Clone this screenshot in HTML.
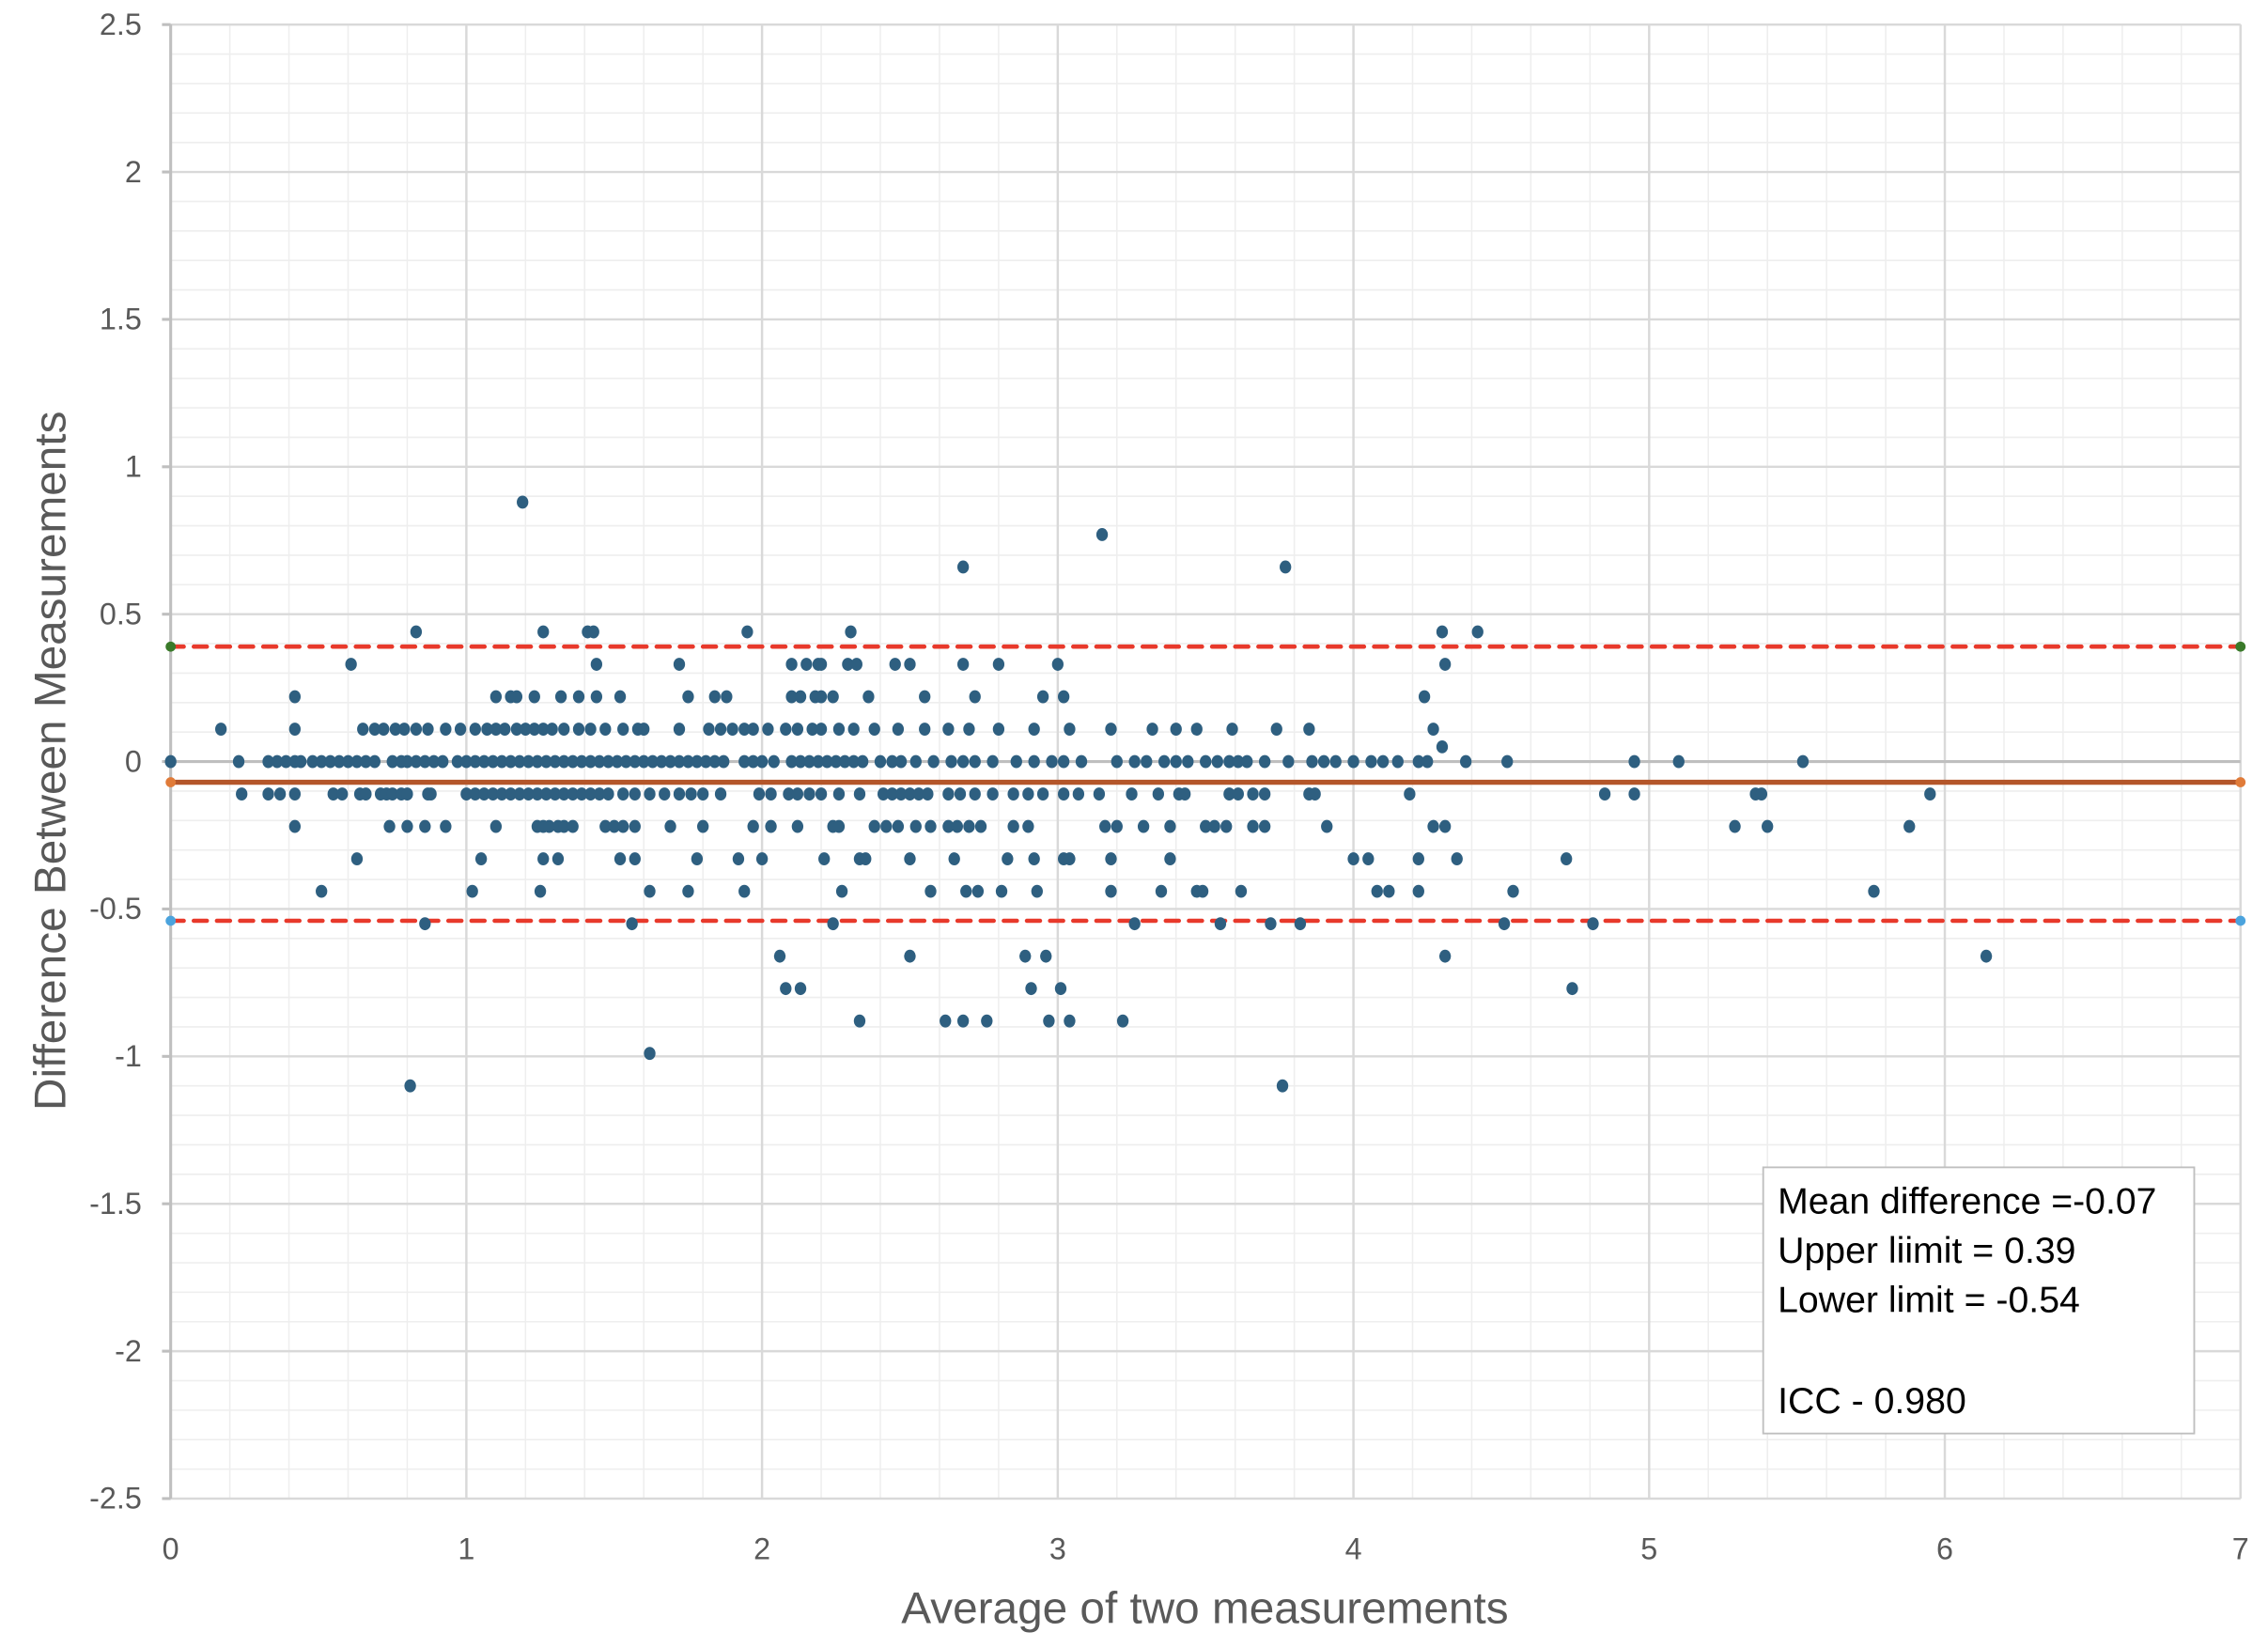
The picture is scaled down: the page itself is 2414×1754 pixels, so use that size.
<!DOCTYPE html>
<html><head><meta charset="utf-8"><style>
html,body{margin:0;padding:0;background:#fff;}
svg{display:block;font-family:"Liberation Sans",sans-serif;}
</style></head><body>
<svg id="chart" width="2414" height="1754" viewBox="0 0 1568 1139.3" preserveAspectRatio="none" xmlns="http://www.w3.org/2000/svg">
<g id="grid"></g>
<g id="axes"></g>
<g id="lines"></g>
<g id="pts"></g>
<text x="0" y="0" transform="translate(45,526) rotate(-90)" text-anchor="middle" font-size="31" fill="#595959">Difference Between Measurements</text>
<text x="833" y="1122" text-anchor="middle" font-size="31" fill="#595959">Average of two measurements</text>
<g>
<rect x="1219" y="807" width="298" height="184" fill="#fff" stroke="#bfbfbf" stroke-width="1.2"/>
<text x="1229" y="839" font-size="25.5" fill="#000" textLength="262" lengthAdjust="spacingAndGlyphs">Mean difference =-0.07</text>
<text x="1229" y="873" font-size="25.5" fill="#000">Upper liimit = 0.39</text>
<text x="1229" y="907" font-size="25.5" fill="#000">Lower limit = -0.54</text>
<text x="1229" y="977" font-size="25.5" fill="#000">ICC - 0.980</text>
</g>
</svg>
<script>
const xTicks=[0,1,2,3,4,5,6,7];
const yTicks=[2.5,2,1.5,1,0.5,0,-0.5,-1,-1.5,-2,-2.5];
const yTickLabels=["2.5","2","1.5","1","0.5","0","-0.5","-1","-1.5","-2","-2.5"];
const meanDiff=-0.07, upperLimit=0.39, lowerLimit=-0.54;
const lvl_0=[0,0.23,0.33,0.36,0.39,0.42,0.44,0.48,0.51,0.54,0.57,0.6,0.63,0.66,0.69,0.75,0.78,0.8,0.83,0.86,0.89,0.92,0.97,1.0,1.03,1.06,1.09,1.12,1.15,1.18,1.21,1.24,1.27,1.3,1.33,1.36,1.39,1.42,1.45,1.48,1.51,1.54,1.57,1.6,1.63,1.66,1.69,1.72,1.75,1.78,1.81,1.84,1.87,1.94,1.97,2.0,2.04,2.1,2.13,2.16,2.19,2.22,2.25,2.28,2.31,2.34,2.4,2.44,2.47,2.52,2.58,2.64,2.68,2.72,2.78,2.86,2.92,2.98,3.02,3.08,3.2,3.26,3.3,3.36,3.4,3.44,3.5,3.54,3.58,3.61,3.64,3.7,3.78,3.86,3.9,3.94,4.0,4.06,4.1,4.15,4.22,4.25,4.38,4.52,4.95,5.1,5.52];
const lvl_p11=[0.17,0.42,0.65,0.69,0.72,0.76,0.79,0.83,0.87,0.93,0.98,1.03,1.07,1.1,1.13,1.17,1.2,1.23,1.26,1.29,1.33,1.38,1.42,1.47,1.53,1.58,1.6,1.72,1.82,1.86,1.9,1.94,1.97,2.02,2.08,2.12,2.17,2.2,2.26,2.31,2.38,2.46,2.55,2.63,2.7,2.8,2.92,3.04,3.18,3.32,3.4,3.47,3.59,3.74,3.85,4.27];
const lvl_p22=[0.42,1.1,1.15,1.17,1.23,1.32,1.38,1.44,1.52,1.75,1.84,1.88,2.1,2.13,2.18,2.2,2.24,2.36,2.55,2.72,2.95,3.02,4.24];
const lvl_p33=[0.61,1.44,1.72,2.1,2.15,2.19,2.2,2.29,2.32,2.45,2.5,2.68,2.8,3.0,4.31];
const lvl_p44=[0.83,1.26,1.41,1.43,1.95,2.3,4.3,4.42];
const lvl_extra_x=[4.3,2.68,3.77,3.15,1.19,1.62,0.81,3.76];
const lvl_extra_y=[0.05,0.66,0.66,0.77,0.88,-0.99,-1.1,-1.1];
const lvl_m11=[0.24,0.33,0.37,0.42,0.55,0.58,0.64,0.66,0.71,0.73,0.75,0.78,0.8,0.87,0.88,1.0,1.03,1.06,1.09,1.12,1.15,1.18,1.21,1.24,1.27,1.3,1.33,1.36,1.39,1.42,1.45,1.48,1.53,1.57,1.62,1.67,1.72,1.76,1.8,1.86,1.99,2.03,2.09,2.12,2.16,2.2,2.26,2.33,2.41,2.44,2.47,2.5,2.53,2.56,2.63,2.67,2.72,2.78,2.85,2.9,2.95,3.02,3.07,3.14,3.25,3.34,3.41,3.43,3.58,3.61,3.66,3.7,3.85,3.87,4.19,4.85,4.95,5.36,5.38,5.95];
const lvl_m22=[0.42,0.74,0.8,0.86,0.93,1.1,1.24,1.26,1.28,1.31,1.33,1.36,1.47,1.5,1.53,1.57,1.69,1.8,1.97,2.03,2.12,2.24,2.26,2.38,2.42,2.46,2.52,2.57,2.63,2.66,2.7,2.74,2.85,2.9,3.16,3.2,3.29,3.38,3.5,3.53,3.57,3.66,3.7,3.91,4.27,4.31,5.29,5.4,5.88];
const lvl_m33=[0.63,1.05,1.26,1.31,1.52,1.57,1.78,1.92,2.0,2.21,2.33,2.35,2.5,2.65,2.83,2.92,3.02,3.04,3.18,3.38,4.0,4.05,4.22,4.35,4.72];
const lvl_m44=[0.51,1.02,1.25,1.62,1.75,1.94,2.27,2.57,2.69,2.73,2.81,2.93,3.18,3.35,3.47,3.49,3.62,4.08,4.12,4.22,4.54,5.76];
const lvl_m55=[0.86,1.56,2.24,3.26,3.55,3.72,3.82,4.51,4.81];
const lvl_m66=[2.06,2.5,2.89,2.96,4.31,6.14];
const lvl_m77=[2.08,2.13,2.91,3.01,4.74];
const lvl_m88=[2.33,2.62,2.68,2.76,2.97,3.04,3.22];

const X0=118,X1=1549,YT=17,YB=1036;
const xs=v=>X0+(v/7)*(X1-X0);
const ys=v=>YT+((2.5-v)/5)*(YB-YT);
const NS="http://www.w3.org/2000/svg";
function mk(tag,attrs,parent){const e=document.createElementNS(NS,tag);for(const k in attrs)e.setAttribute(k,attrs[k]);parent.appendChild(e);return e;}
const grid=document.getElementById('grid'),axes=document.getElementById('axes'),lines=document.getElementById('lines'),pts=document.getElementById('pts');
for(let i=1;i<35;i++){if(i%5===0)continue;const g=mk('line',{x1:xs(i*0.2),x2:xs(i*0.2),y1:YT,y2:YB,stroke:'#eeeeee','stroke-width':1},grid);

}
for(let i=1;i<50;i++){if(i%5===0)continue;const g=mk('line',{x1:X0,x2:X1,y1:ys(2.5-i*0.1),y2:ys(2.5-i*0.1),stroke:'#eeeeee','stroke-width':1},grid);

}
xTicks.forEach(t=>{const g=mk('line',{x1:xs(t),x2:xs(t),y1:YT,y2:YB,stroke:'#d9d9d9','stroke-width':1.6},grid);


const tx=mk('text',{x:xs(t),y:1078,'text-anchor':'middle','font-size':21,fill:'#595959'},axes);tx.textContent=t;

});
yTicks.forEach((t,i)=>{const g=mk('line',{x1:X0,x2:X1,y1:ys(t),y2:ys(t),stroke:t===0?'#bfbfbf':'#d9d9d9','stroke-width':t===0?2:1.6},grid);


const tk=mk('text',{x:98,y:ys(t)+7,'text-anchor':'end','font-size':21,fill:'#595959'},axes);tk.textContent=yTickLabels[i];


const tm=mk('line',{x1:X0-6,x2:X0,y1:ys(t),y2:ys(t),stroke:'#bfbfbf','stroke-width':2},axes);

});
const ya=mk('line',{x1:X0,x2:X0,y1:YT,y2:YB,stroke:'#bfbfbf','stroke-width':2},axes);


const ml=mk('line',{x1:X0,x2:X1,y1:ys(meanDiff),y2:ys(meanDiff),stroke:'#b4562a','stroke-width':3.5},lines);


[[upperLimit,'upper-limit-line','#3a7a2a'],[lowerLimit,'lower-limit-line','#4ba3dd']].forEach(([v,n,c])=>{
const l=mk('line',{x1:X0,x2:X1,y1:ys(v),y2:ys(v),stroke:'#e8392b','stroke-width':3,'stroke-dasharray':'9 7','stroke-linecap':'round'},lines);


[0,7].forEach(x=>{const m=mk('circle',{cx:xs(x),cy:ys(v),r:3.5,fill:c},lines);

});});
[0,7].forEach(x=>{const m=mk('circle',{cx:xs(x),cy:ys(meanDiff),r:3.5,fill:'#e07b39'},lines);

});
const levels=[[lvl_0,0],[lvl_p11,0.11],[lvl_p22,0.22],[lvl_p33,0.33],[lvl_p44,0.44],[lvl_m11,-0.11],[lvl_m22,-0.22],[lvl_m33,-0.33],[lvl_m44,-0.44],[lvl_m55,-0.55],[lvl_m66,-0.66],[lvl_m77,-0.77],[lvl_m88,-0.88]];
function dot(x,y){const c=mk('ellipse',{cx:xs(x),cy:ys(y),rx:4,ry:4.5,fill:'#2e5f80'},pts);

}
levels.forEach(([arr,y])=>arr.forEach(x=>dot(x,y)));
lvl_extra_x.forEach((x,i)=>dot(x,lvl_extra_y[i]));
</script>
</body></html>
